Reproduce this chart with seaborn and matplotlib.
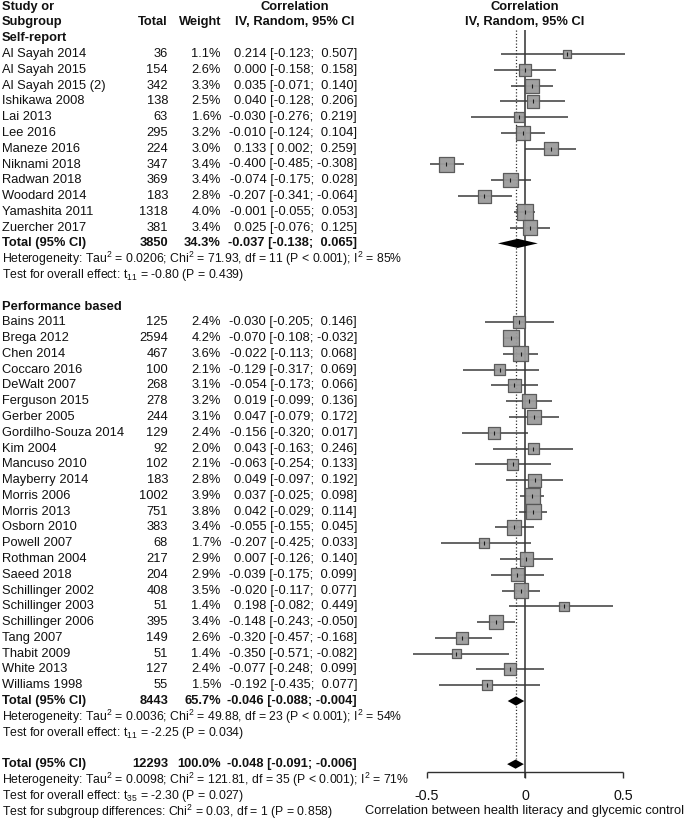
import numpy as np
import pandas as pd
import matplotlib
matplotlib.use('Agg')
import matplotlib.pyplot as plt
import matplotlib.transforms as mtransforms
import seaborn as sns

sns.set_style('white')
plt.rcParams['font.family'] = ['Liberation Sans', 'DejaVu Sans']
plt.rcParams['mathtext.fontset'] = 'custom'
plt.rcParams['mathtext.rm'] = 'Liberation Sans'

# --- data ---
self_names = ['Al Sayah 2014', 'Al Sayah 2015', 'Al Sayah 2015 (2)', 'Ishikawa 2008', 'Lai 2013',
              'Lee 2016', 'Maneze 2016', 'Niknami 2018', 'Radwan 2018', 'Woodard 2014',
              'Yamashita 2011', 'Zuercher 2017']
self_total = [36, 154, 342, 138, 63, 295, 224, 347, 369, 183, 1318, 381]
self_weight = [1.1, 2.6, 3.3, 2.5, 1.6, 3.2, 3.0, 3.4, 3.4, 2.8, 4.0, 3.4]
self_est = [0.214, 0.000, 0.035, 0.040, -0.030, -0.010, 0.133, -0.400, -0.074, -0.207, -0.001, 0.025]
self_lo = [-0.123, -0.158, -0.071, -0.128, -0.276, -0.124, 0.002, -0.485, -0.175, -0.341, -0.055, -0.076]
self_hi = [0.507, 0.158, 0.140, 0.206, 0.219, 0.104, 0.259, -0.308, 0.028, -0.064, 0.053, 0.125]

perf_names = ['Bains 2011', 'Brega 2012', 'Chen 2014', 'Coccaro 2016', 'DeWalt 2007', 'Ferguson 2015',
              'Gerber 2005', 'Gordilho-Souza 2014', 'Kim 2004', 'Mancuso 2010', 'Mayberry 2014',
              'Morris 2006', 'Morris 2013', 'Osborn 2010', 'Powell 2007', 'Rothman 2004', 'Saeed 2018',
              'Schillinger 2002', 'Schillinger 2003', 'Schillinger 2006', 'Tang 2007', 'Thabit 2009',
              'White 2013', 'Williams 1998']
perf_total = [125, 2594, 467, 100, 268, 278, 244, 129, 92, 102, 183, 1002, 751, 383, 68, 217, 204,
              408, 51, 395, 149, 51, 127, 55]
perf_weight = [2.4, 4.2, 3.6, 2.1, 3.1, 3.2, 3.1, 2.4, 2.0, 2.1, 2.8, 3.9, 3.8, 3.4, 1.7, 2.9, 2.9,
               3.5, 1.4, 3.4, 2.6, 1.4, 2.4, 1.5]
perf_est = [-0.030, -0.070, -0.022, -0.129, -0.054, 0.019, 0.047, -0.156, 0.043, -0.063, 0.049,
            0.037, 0.042, -0.055, -0.207, 0.007, -0.039, -0.020, 0.198, -0.148, -0.320, -0.350,
            -0.077, -0.192]
perf_lo = [-0.205, -0.108, -0.113, -0.317, -0.173, -0.099, -0.079, -0.320, -0.163, -0.254, -0.097,
           -0.025, -0.029, -0.155, -0.425, -0.126, -0.175, -0.117, -0.082, -0.243, -0.457, -0.571,
           -0.248, -0.435]
perf_hi = [0.146, -0.032, 0.068, 0.069, 0.066, 0.136, 0.172, 0.017, 0.246, 0.133, 0.192, 0.098,
           0.114, 0.045, 0.033, 0.140, 0.099, 0.077, 0.449, -0.050, -0.168, -0.082, 0.099, 0.077]

# subgroup totals: self-report, performance based, overall
tot_n = [3850, 8443, 12293]
tot_weight = ['34.3%', '65.7%', '100.0%']
tot_est = [-0.037, -0.046, -0.048]
tot_lo = [-0.138, -0.088, -0.091]
tot_hi = [0.065, -0.004, -0.006]

het_text = [r'Heterogeneity: Tau$^2$ = 0.0206; Chi$^2$ = 71.93, df = 11 (P < 0.001); I$^2$ = 85%',
            r'Heterogeneity: Tau$^2$ = 0.0036; Chi$^2$ = 49.88, df = 23 (P < 0.001); I$^2$ = 54%',
            r'Heterogeneity: Tau$^2$ = 0.0098; Chi$^2$ = 121.81, df = 35 (P < 0.001); I$^2$ = 71%']
effect_text = [r'Test for overall effect: $\mathregular{t_{11}}$ = -0.80 (P = 0.439)',
               r'Test for overall effect: $\mathregular{t_{11}}$ = -2.25 (P = 0.034)',
               r'Test for overall effect: $\mathregular{t_{35}}$ = -2.30 (P = 0.027)']
subgroup_text = r'Test for subgroup differences: Chi$^2$ = 0.03, df = 1 (P = 0.858)'
ticks = [-0.5, 0, 0.5]
tick_labels = ['-0.5', '0', '0.5']
xlabel = 'Correlation between health literacy and glycemic control'

# --- layout (row indices) ---
self_rows = list(range(3, 3 + len(self_names)))
perf_rows = list(range(20, 20 + len(perf_names)))
tot_rows = [15, 44, 48]

df = pd.DataFrame({
    'name': self_names + perf_names,
    'total': self_total + perf_total,
    'weight': self_weight + perf_weight,
    'est': self_est + perf_est,
    'lo': self_lo + perf_lo,
    'hi': self_hi + perf_hi,
    'row': self_rows + perf_rows,
})

W, H = 685, 821
fig = plt.figure(figsize=(W / 100, H / 100), dpi=100)
ax = fig.add_axes([0, 0, 1, 1])
unit = 196.6  # px per correlation unit
x0 = 525
pitch = 15.78
ax.set_xlim(-x0 / unit, (W - x0) / unit)
ax.set_ylim((H - 6.7) / pitch, -6.7 / pitch)
ax.axis('off')

tr = mtransforms.blended_transform_factory(fig.transFigure, ax.transData)
fs = 9.3
txt_color = '#111111'


def put(xpx, row, s, ha='left', bold=False, size=fs):
    ax.text(xpx / W, row, s, transform=tr, ha=ha, va='center', fontsize=size,
            fontweight='bold' if bold else 'normal', color=txt_color)


def ci_str(e, l, h):
    return f'{e:.3f} [{l:6.3f}; {h:6.3f}]'


# headers
put(2, 0, 'Study or', bold=True)
put(2, 1, 'Subgroup', bold=True)
put(168, 1, 'Total', ha='right', bold=True)
put(221, 1, 'Weight', ha='right', bold=True)
put(295, 0, 'Correlation', ha='center', bold=True)
put(295, 1, 'IV, Random, 95% CI', ha='center', bold=True)
put(525, 0, 'Correlation', ha='center', bold=True)
put(525, 1, 'IV, Random, 95% CI', ha='center', bold=True)
put(2, 2, 'Self-report', bold=True)
put(2, 19, 'Performance based', bold=True)

for _, r in df.iterrows():
    put(2, r['row'], r['name'])
    put(168, r['row'], str(r['total']), ha='right')
    put(221, r['row'], f"{r['weight']:.1f}%", ha='right')
    put(357, r['row'], ci_str(r['est'], r['lo'], r['hi']), ha='right')

for i, row in enumerate(tot_rows):
    put(2, row, 'Total (95% CI)', bold=True)
    put(168, row, str(tot_n[i]), ha='right', bold=True)
    put(221, row, tot_weight[i], ha='right', bold=True)
    put(357, row, ci_str(tot_est[i], tot_lo[i], tot_hi[i]), ha='right', bold=True)
    put(2, row + 1, het_text[i], size=fs - 0.5)
    put(2, row + 2, effect_text[i], size=fs - 0.5)
put(2, 51, subgroup_text, size=fs - 0.5)

# reference lines
ax.vlines(0, 1.45, 48.9, color='#303030', lw=1.1, zorder=1)
ax.vlines(tot_est[2], 1.45, 47.7, color='#303030', lw=0.9, linestyles=(0, (1, 1.6)), zorder=1)

# CI lines and squares
ax.hlines(df['row'], df['lo'], df['hi'], color='#3a3a3a', lw=1.1, zorder=2)
size_map = {w: 31.5 * w for w in df['weight'].unique()}
sns.scatterplot(data=df, x='est', y='row', size='weight', sizes=size_map, marker='s',
                color='#9c9c9c', edgecolor='#555555', linewidth=0.9, alpha=0.95,
                legend=False, zorder=3, ax=ax)
sns.scatterplot(data=df, x='est', y='row', marker='|', s=10, color='#1a1a1a',
                linewidth=0.8, legend=False, zorder=4, ax=ax)

# diamonds
for i, row in enumerate(tot_rows):
    ax.fill([tot_lo[i], tot_est[i], tot_hi[i], tot_est[i]],
            [row, row - 0.29, row, row + 0.29], color='black', lw=0, zorder=4)

# scale axis
ax_row = 48.5
ax.hlines(ax_row, ticks[0], ticks[-1], color='#303030', lw=1.0)
ax.vlines(ticks, ax_row, ax_row + 0.4, color='#303030', lw=1.0)
for t, lab in zip(ticks, tick_labels):
    ax.text(t, 50, lab, ha='center', va='center', fontsize=fs + 1.0, color=txt_color)
put(684, 51, xlabel, ha='right')

ax.set_xlabel('')
ax.set_ylabel('')
fig.savefig('out.png', dpi=100)
